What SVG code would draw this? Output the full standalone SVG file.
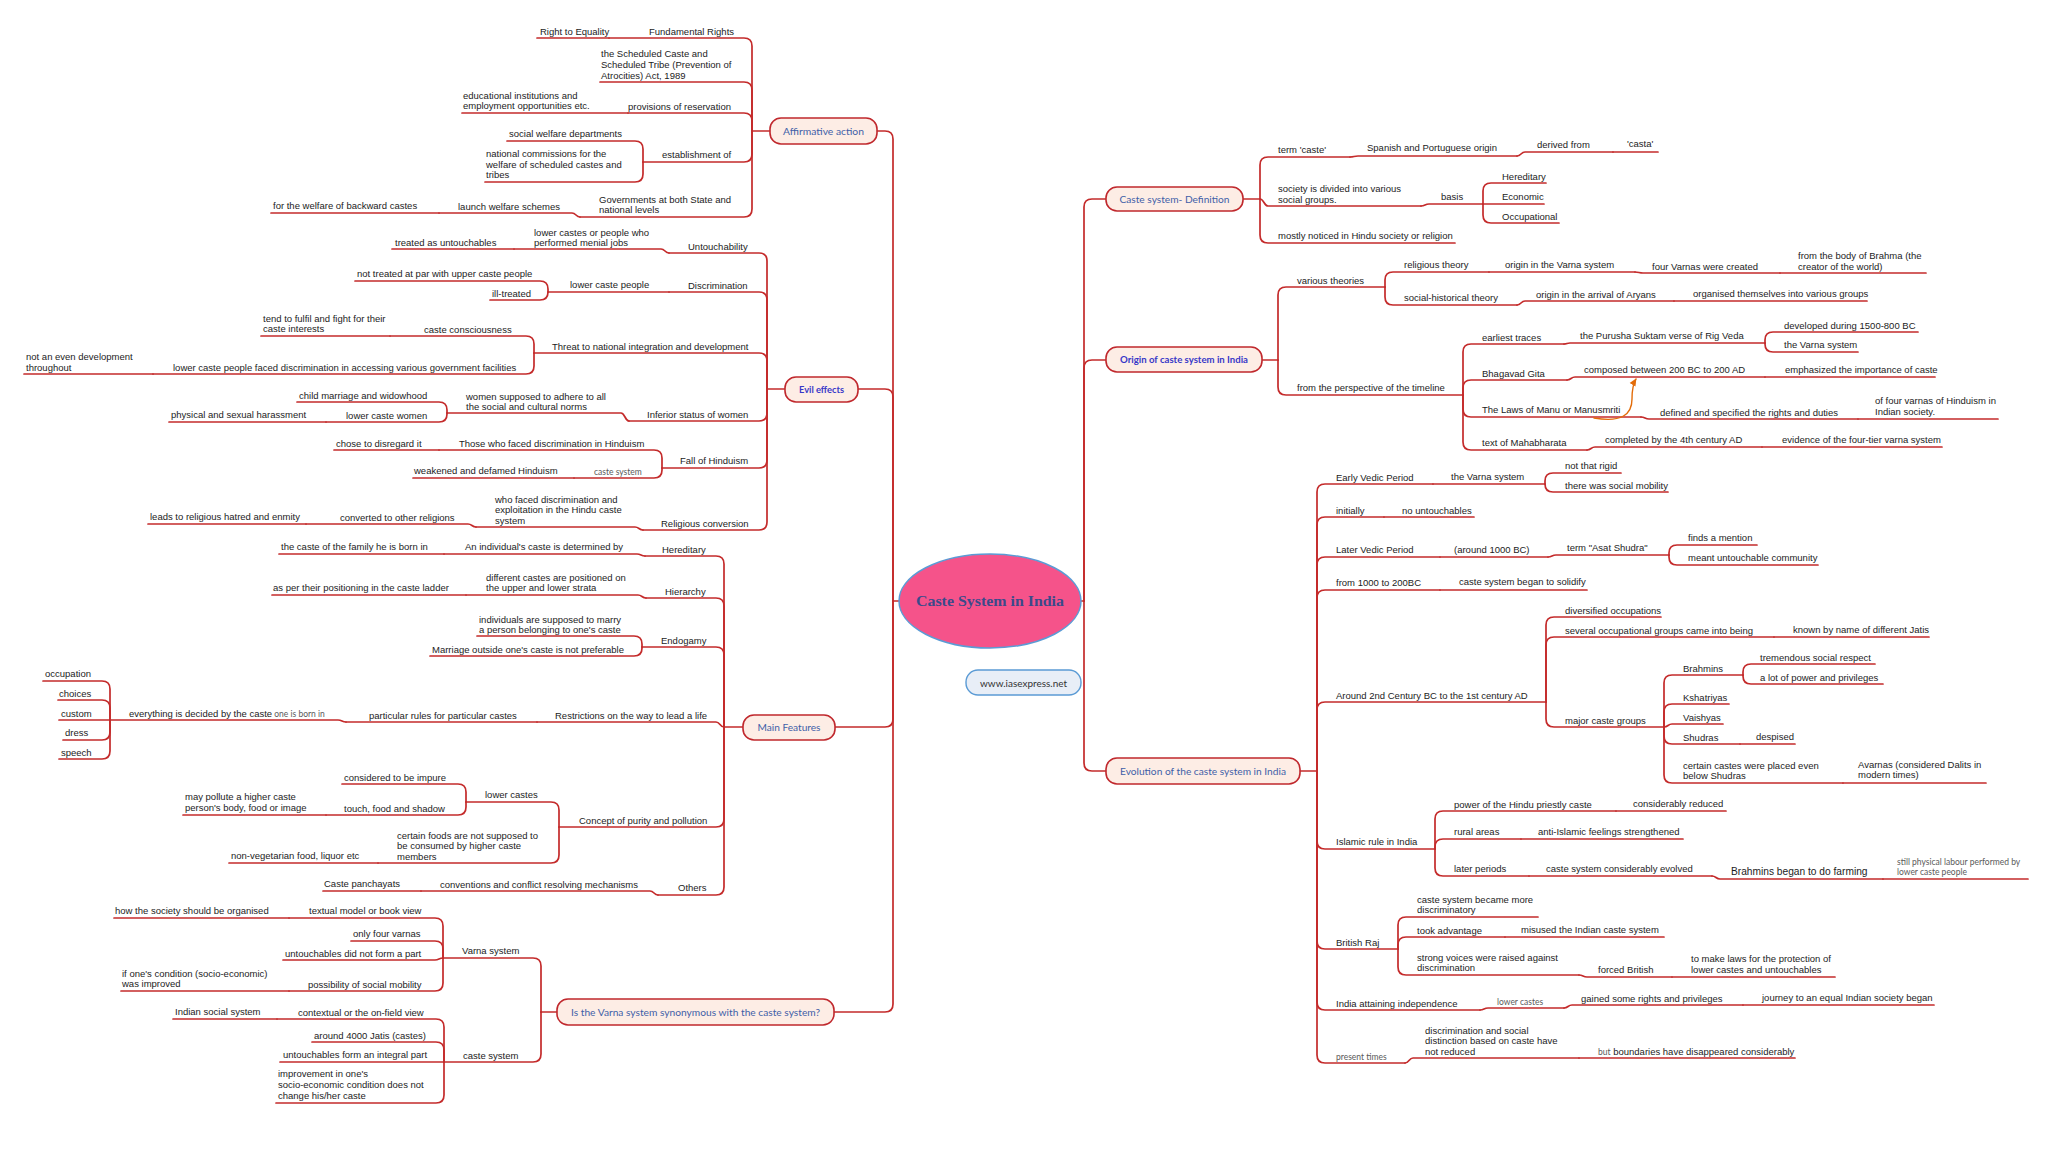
<svg xmlns="http://www.w3.org/2000/svg" width="2048" height="1165" viewBox="0 0 2048 1165">
<defs>
<style>
.t{font-family:"Liberation Sans",Arial,sans-serif;font-size:9.5px;fill:#1c1c1c}
.s{font-family:Lato,"Liberation Sans",sans-serif;font-size:8.5px;fill:#5a5a5a}
.b{font-family:"Liberation Sans",Arial,sans-serif;font-size:10.2px;fill:#1c1c1c}
.mn rect{fill:#fdede5;stroke:#c0282d;stroke-width:1.6}
.mt{font-family:Lato,"Liberation Sans",sans-serif;font-size:10px;fill:#3f5fa8;text-anchor:middle}
.mp{fill:#3838c8;font-weight:bold}
#connectors path{fill:none;stroke:#c42b2b;stroke-width:1.7;stroke-linecap:round;stroke-linejoin:round}
#connectors path.ar{stroke:#e36c09;stroke-width:1.4}
</style>
<marker id="arr" viewBox="0 0 10 10" refX="8" refY="5" markerWidth="6" markerHeight="6" orient="auto">
<path d="M0,1 L9,5 L0,9 z" fill="#e36c09"/>
</marker>
</defs>
<rect width="2048" height="1165" fill="#ffffff"/>
<g id="connectors">
<!-- trunks -->
<path d="M899,601 H893"/>
<path d="M877,131 H885 Q893,131 893,139 V601"/>
<path d="M858,389 H885 Q893,389 893,397 V601"/>
<path d="M835,727 H885 Q893,727 893,719 V601"/>
<path d="M834,1012 H885 Q893,1012 893,1004 V601"/>
<path d="M1081,601 H1084"/>
<path d="M1106,199 H1092 Q1084,199 1084,207 V601"/>
<path d="M1106,360 H1092 Q1084,360 1084,368 V601"/>
<path d="M1106,771 H1092 Q1084,771 1084,763 V601"/>
<!-- Affirmative -->
<path d="M770,131 H752"/>
<path d="M609,38 H744 Q752,38 752,46 V131"/>
<path d="M537,38 H609"/>
<path d="M600,82 H744 Q752,82 752,90 V131"/>
<path d="M628,113 H744 Q752,113 752,121 V131"/>
<path d="M462,113 H628"/>
<path d="M643,162 H744 Q752,162 752,154 V131"/>
<path d="M507,141 H635 Q643,141 643,149 V162"/>
<path d="M485,182 H635 Q643,182 643,174 V162"/>
<path d="M580,217 H744 Q752,217 752,209 V131"/>
<path d="M439,213 H572 C576,213 576,217 580,217"/>
<path d="M271,213 H439"/>
<!-- Evil effects -->
<path d="M785,389 H767"/>
<path d="M669,253 H759 Q767,253 767,261 V389"/>
<path d="M514,249 H661 C665,249 665,253 669,253"/>
<path d="M392,249 H514"/>
<path d="M669,292 H759 Q767,292 767,300 V389"/>
<path d="M548,292 H669"/>
<path d="M355,281 H540 Q548,281 548,289 V292"/>
<path d="M490,300 H540 Q548,300 548,292"/>
<path d="M534,353 H759 Q767,353 767,361 V389"/>
<path d="M390,336 H526 Q534,336 534,344 V353"/>
<path d="M261,336 H390"/>
<path d="M153,374 H526 Q534,374 534,366 V353"/>
<path d="M24,374 H153"/>
<path d="M629,421 H759 Q767,421 767,413 V389"/>
<path d="M447,413 H621 C625,413 625,421 629,421"/>
<path d="M297,402 H439 Q447,402 447,410 V413"/>
<path d="M326,422 H439 Q447,422 447,414 V413"/>
<path d="M169,422 H326"/>
<path d="M662,468 H759 Q767,468 767,460 V389"/>
<path d="M439,450 H654 Q662,450 662,458 V468"/>
<path d="M334,450 H439"/>
<path d="M574,478 H654 Q662,478 662,470 V468"/>
<path d="M413,478 H574"/>
<path d="M643,530 H759 Q767,530 767,522 V389"/>
<path d="M476,527 H635 C639,527 639,530 643,530"/>
<path d="M306,524 H468 C472,524 472,527 476,527"/>
<path d="M148,524 H306"/>
<!-- Main features -->
<path d="M743,727 H724"/>
<path d="M645,556 H716 Q724,556 724,564 V727"/>
<path d="M444,554 H637 C641,554 641,556 645,556"/>
<path d="M279,554 H444"/>
<path d="M646,598 H716 Q724,598 724,606 V727"/>
<path d="M466,595 H638 C642,595 642,598 646,598"/>
<path d="M272,595 H466"/>
<path d="M642,647 H716 Q724,647 724,655 V727"/>
<path d="M477,636 H634 Q642,636 642,644 V647"/>
<path d="M430,656 H634 Q642,656 642,648 V647"/>
<path d="M537,722 H716 C720,722 720,727 724,727"/>
<path d="M346,722 H537"/>
<path d="M110,720 H338 C342,720 342,722 346,722"/>
<path d="M43,681 H102 Q110,681 110,689 V720"/>
<path d="M58,700 H102 Q110,700 110,708 V720"/>
<path d="M59,720 H110"/>
<path d="M63,740 H102 Q110,740 110,732 V720"/>
<path d="M59,759 H102 Q110,759 110,751 V720"/>
<path d="M559,827 H716 Q724,827 724,819 V727"/>
<path d="M466,802 H551 Q559,802 559,810 V827"/>
<path d="M342,784 H458 Q466,784 466,792 V802"/>
<path d="M326,815 H458 Q466,815 466,807 V802"/>
<path d="M183,815 H326"/>
<path d="M378,863 H551 Q559,863 559,855 V827"/>
<path d="M229,863 H378"/>
<path d="M658,895 H716 Q724,895 724,887 V727"/>
<path d="M421,891 H650 C654,891 654,895 658,895"/>
<path d="M323,891 H421"/>
<!-- Varna question -->
<path d="M557,1012 H541"/>
<path d="M443,958 H533 Q541,958 541,966 V1012"/>
<path d="M289,918 H435 Q443,918 443,926 V958"/>
<path d="M114,918 H289"/>
<path d="M351,941 H435 Q443,941 443,949 V958"/>
<path d="M283,960 H435 C439,960 439,958 443,958"/>
<path d="M289,991 H435 Q443,991 443,983 V958"/>
<path d="M121,991 H289"/>
<path d="M444,1062 H533 Q541,1062 541,1054 V1012"/>
<path d="M277,1019 H436 Q444,1019 444,1027 V1062"/>
<path d="M173,1019 H277"/>
<path d="M312,1042 H436 Q444,1042 444,1050 V1062"/>
<path d="M280,1062 H444"/>
<path d="M276,1103 H436 Q444,1103 444,1095 V1062"/>
<!-- Definition -->
<path d="M1243,199 H1260"/>
<path d="M1350,157 H1268 Q1260,157 1260,165 V199"/>
<path d="M1350,157 C1354,157 1354,156 1358,156 H1517"/>
<path d="M1517,156 C1521,156 1521,152 1525,152 H1613"/>
<path d="M1613,152 H1658"/>
<path d="M1260,199 C1264,199 1264,206 1268,206 H1421"/>
<path d="M1421,206 C1425,206 1425,204 1429,204 H1483"/>
<path d="M1546,183 H1491 Q1483,183 1483,191 V204"/>
<path d="M1483,204 H1544"/>
<path d="M1559,223 H1491 Q1483,223 1483,215 V204"/>
<path d="M1455,243 H1268 Q1260,243 1260,235 V199"/>
<!-- Origin -->
<path d="M1262,360 H1278"/>
<path d="M1385,287 H1286 Q1278,287 1278,295 V360"/>
<path d="M1489,272 H1393 Q1385,272 1385,280 V287"/>
<path d="M1489,272 H1635"/>
<path d="M1635,272 C1639,272 1639,273 1643,273 H1780"/>
<path d="M1780,273 H1926"/>
<path d="M1517,305 H1393 Q1385,305 1385,297 V287"/>
<path d="M1517,305 C1521,305 1521,301 1525,301 H1674"/>
<path d="M1674,301 H1867"/>
<path d="M1463,395 H1286 Q1278,395 1278,387 V360"/>
<path d="M1564,344 H1471 Q1463,344 1463,352 V395"/>
<path d="M1564,344 C1567,344 1567,343 1570,343 H1765"/>
<path d="M1918,332 H1773 Q1765,332 1765,340 V343"/>
<path d="M1858,352 H1773 Q1765,352 1765,344 V343"/>
<path d="M1567,380 H1471 Q1463,380 1463,388 V395"/>
<path d="M1567,380 C1571,380 1571,377 1575,377 H1765"/>
<path d="M1765,377 H1935"/>
<path d="M1641,417 H1471 Q1463,417 1463,409 V395"/>
<path d="M1641,417 C1645,417 1645,419 1649,419 H1858"/>
<path d="M1858,419 H1998"/>
<path d="M1587,450 H1471 Q1463,450 1463,442 V395"/>
<path d="M1587,450 C1591,450 1591,447 1595,447 H1762"/>
<path d="M1762,447 H1942"/>
<path class="ar" d="M1594,418 C1622,423 1632,414 1632,399 C1632,389 1633,384 1636,379" marker-end="url(#arr)"/>
<!-- Evolution -->
<path d="M1300,771 H1317"/>
<path d="M1433,484 H1325 Q1317,484 1317,492 V771"/>
<path d="M1433,484 H1545"/>
<path d="M1621,473 H1553 Q1545,473 1545,481 V484"/>
<path d="M1668,492 H1553 Q1545,492 1545,484"/>
<path d="M1384,517 H1325 Q1317,517 1317,525 V771"/>
<path d="M1384,517 H1474"/>
<path d="M1440,557 H1325 Q1317,557 1317,565 V771"/>
<path d="M1440,557 H1548"/>
<path d="M1548,557 C1552,557 1552,555 1556,555 H1669"/>
<path d="M1757,545 H1677 Q1669,545 1669,553 V555"/>
<path d="M1818,565 H1677 Q1669,565 1669,557 V555"/>
<path d="M1440,590 H1325 Q1317,590 1317,598 V771"/>
<path d="M1440,590 H1587"/>
<path d="M1546,702 H1325 Q1317,702 1317,710 V771"/>
<path d="M1661,617 H1554 Q1546,617 1546,625 V702"/>
<path d="M1774,637 H1554 Q1546,637 1546,645 V702"/>
<path d="M1774,637 H1929"/>
<path d="M1664,727 H1554 Q1546,727 1546,719 V702"/>
<path d="M1743,675 H1672 Q1664,675 1664,683 V727"/>
<path d="M1875,664 H1751 Q1743,664 1743,672 V675"/>
<path d="M1883,684 H1751 Q1743,684 1743,676 V675"/>
<path d="M1729,704 H1672 Q1664,704 1664,712 V727"/>
<path d="M1664,727 C1668,727 1668,724 1672,724 H1723"/>
<path d="M1740,744 H1672 Q1664,744 1664,736 V727"/>
<path d="M1740,744 H1795"/>
<path d="M1843,783 H1672 Q1664,783 1664,775 V727"/>
<path d="M1843,783 H1986"/>
<path d="M1435,849 H1325 Q1317,849 1317,841 V771"/>
<path d="M1616,811 H1443 Q1435,811 1435,819 V849"/>
<path d="M1616,811 H1726"/>
<path d="M1521,839 H1443 Q1435,839 1435,847 V849"/>
<path d="M1521,839 H1683"/>
<path d="M1529,876 H1443 Q1435,876 1435,868 V849"/>
<path d="M1529,876 H1712"/>
<path d="M1712,876 C1716,876 1716,879 1720,879 H1883"/>
<path d="M1883,879 H2028"/>
<path d="M1398,949 H1325 Q1317,949 1317,941 V771"/>
<path d="M1538,917 H1406 Q1398,917 1398,925 V949"/>
<path d="M1505,937 H1406 Q1398,937 1398,945 V949"/>
<path d="M1505,937 H1664"/>
<path d="M1579,975 H1406 Q1398,975 1398,967 V949"/>
<path d="M1579,975 C1583,975 1583,977 1587,977 H1672"/>
<path d="M1672,977 H1835"/>
<path d="M1480,1010 H1325 Q1317,1010 1317,1002 V771"/>
<path d="M1480,1010 C1484,1010 1484,1008 1488,1008 H1564"/>
<path d="M1564,1008 C1568,1008 1568,1005 1572,1005 H1743"/>
<path d="M1743,1005 H1934"/>
<path d="M1405,1063 H1325 Q1317,1063 1317,1055 V771"/>
<path d="M1405,1063 C1409,1063 1409,1058 1413,1058 H1579"/>
<path d="M1579,1058 H1795"/>
</g>
<g id="nodes">
<g id="center">
<ellipse cx="990" cy="601" rx="91" ry="47" fill="#f5538a" stroke="#5b9bd5" stroke-width="1.5"/>
<text x="990" y="606" text-anchor="middle" font-family="'Liberation Serif','DejaVu Serif',serif" font-weight="bold" font-size="15" fill="#3b4a8a" textLength="148" lengthAdjust="spacingAndGlyphs">Caste System in India</text>
</g>
<g id="website">
<rect x="966" y="670" width="115" height="25" rx="12" fill="#e8eef7" stroke="#5b9bd5" stroke-width="1.4"/>
<text x="1023.5" y="686.5" text-anchor="middle" font-family="Lato,'Liberation Sans',sans-serif" font-size="10" fill="#333" textLength="87" lengthAdjust="spacingAndGlyphs">www.iasexpress.net</text>
</g>
<g id="n-affirmative" class="mn"><rect x="770" y="118" width="107" height="26" rx="11"/><text class="mt" x="823.5" y="134.5" textLength="81" lengthAdjust="spacingAndGlyphs">Affirmative action</text></g>
<g id="n-evil" class="mn"><rect x="785" y="377" width="73" height="25" rx="11"/><text class="mt mp" x="821.5" y="392.5" textLength="45" lengthAdjust="spacingAndGlyphs">Evil effects</text></g>
<g id="n-features" class="mn"><rect x="743" y="715" width="92" height="25" rx="11"/><text class="mt" x="789" y="730.5" textLength="63" lengthAdjust="spacingAndGlyphs">Main Features</text></g>
<g id="n-varnaq" class="mn"><rect x="557" y="999" width="277" height="26" rx="11"/><text class="mt" x="695.5" y="1015.5" textLength="249" lengthAdjust="spacingAndGlyphs">Is the Varna system synonymous with the caste system?</text></g>
<g id="n-definition" class="mn"><rect x="1106" y="187" width="137" height="24" rx="11"/><text class="mt" x="1174.5" y="202.5" textLength="110" lengthAdjust="spacingAndGlyphs">Caste system- Definition</text></g>
<g id="n-origin" class="mn"><rect x="1106" y="347" width="156" height="25" rx="11"/><text class="mt mp" x="1184" y="363" textLength="128" lengthAdjust="spacingAndGlyphs">Origin of caste system in India</text></g>
<g id="n-evolution" class="mn"><rect x="1106" y="758" width="194" height="26" rx="11"/><text class="mt" x="1203" y="774.5" textLength="166" lengthAdjust="spacingAndGlyphs">Evolution of the caste system in India</text></g>

<!-- Affirmative action subtopics -->
<g id="a1"><text class="t" x="649" y="34.5">Fundamental Rights</text></g>
<g id="a1a"><text class="t" x="540" y="34.5">Right to Equality</text></g>
<g id="a2"><text class="t"><tspan x="601" y="56.5">the Scheduled Caste and</tspan><tspan x="601" y="67.5">Scheduled Tribe (Prevention of</tspan><tspan x="601" y="78.5">Atrocities) Act, 1989</tspan></text></g>
<g id="a3"><text class="t" x="628" y="109.5">provisions of reservation</text></g>
<g id="a3a"><text class="t"><tspan x="463" y="98.5">educational institutions and</tspan><tspan x="463" y="109">employment opportunities etc.</tspan></text></g>
<g id="a4"><text class="t" x="662" y="157.5">establishment of</text></g>
<g id="a4a"><text class="t" x="509" y="136.5">social welfare departments</text></g>
<g id="a4b"><text class="t"><tspan x="486" y="156.5">national commissions for the</tspan><tspan x="486" y="167.5">welfare of scheduled castes and</tspan><tspan x="486" y="178">tribes</tspan></text></g>
<g id="a5"><text class="t"><tspan x="599" y="202.5">Governments at both State and</tspan><tspan x="599" y="213">national levels</tspan></text></g>
<g id="a5a"><text class="t" x="458" y="209.5">launch welfare schemes</text></g>
<g id="a5a1"><text class="t" x="273" y="208.5">for the welfare of backward castes</text></g>

<!-- Evil effects subtopics -->
<g id="e1"><text class="t" x="688" y="249.5">Untouchability</text></g>
<g id="e1a"><text class="t"><tspan x="534" y="235.5">lower castes or people who</tspan><tspan x="534" y="246">performed menial jobs</tspan></text></g>
<g id="e1a1"><text class="t" x="395" y="245.5">treated as untouchables</text></g>
<g id="e2"><text class="t" x="688" y="288.5">Discrimination</text></g>
<g id="e2a"><text class="t" x="570" y="287.5">lower caste people</text></g>
<g id="e2a1"><text class="t" x="357" y="276.5">not treated at par with upper caste people</text></g>
<g id="e2a2"><text class="t" x="492" y="296.5">ill-treated</text></g>
<g id="e3"><text class="t" x="552" y="349.5">Threat to national integration and development</text></g>
<g id="e3a"><text class="t" x="424" y="332.5">caste consciousness</text></g>
<g id="e3a1"><text class="t"><tspan x="263" y="321.5">tend to fulfil and fight for their</tspan><tspan x="263" y="332">caste interests</tspan></text></g>
<g id="e3b"><text class="t" x="173" y="370.5">lower caste people faced discrimination in accessing various government facilities</text></g>
<g id="e3b1"><text class="t"><tspan x="26" y="359.5">not an even development</tspan><tspan x="26" y="370.5">throughout</tspan></text></g>
<g id="e4"><text class="t" x="647" y="417.5">Inferior status of women</text></g>
<g id="e4a"><text class="t"><tspan x="466" y="399.5">women supposed to adhere to all</tspan><tspan x="466" y="410">the social and cultural norms</tspan></text></g>
<g id="e4a1"><text class="t" x="299" y="398.5">child marriage and widowhood</text></g>
<g id="e4a2"><text class="t" x="346" y="418.5">lower caste women</text></g>
<g id="e4a2a"><text class="t" x="171" y="417.5">physical and sexual harassment</text></g>
<g id="e5"><text class="t" x="680" y="463.5">Fall of Hinduism</text></g>
<g id="e5a"><text class="t" x="459" y="446.5">Those who faced discrimination in Hinduism</text></g>
<g id="e5a1"><text class="t" x="336" y="446.5">chose to disregard it</text></g>
<g id="e5b"><text class="s" x="594" y="475">caste system</text></g>
<g id="e5b1"><text class="t" x="414" y="473.5">weakened and defamed Hinduism</text></g>
<g id="e6"><text class="t" x="661" y="526.5">Religious conversion</text></g>
<g id="e6a"><text class="t"><tspan x="495" y="502.5">who faced discrimination and</tspan><tspan x="495" y="513">exploitation in the Hindu caste</tspan><tspan x="495" y="523.5">system</tspan></text></g>
<g id="e6a1"><text class="t" x="340" y="520.5">converted to other religions</text></g>
<g id="e6a1a"><text class="t" x="150" y="519.5">leads to religious hatred and enmity</text></g>

<!-- Main Features subtopics -->
<g id="m1"><text class="t" x="662" y="552.5">Hereditary</text></g>
<g id="m1a"><text class="t" x="465" y="549.5">An individual's caste is determined by</text></g>
<g id="m1a1"><text class="t" x="281" y="549.5">the caste of the family he is born in</text></g>
<g id="m2"><text class="t" x="665" y="594.5">Hierarchy</text></g>
<g id="m2a"><text class="t"><tspan x="486" y="580.5">different castes are positioned on</tspan><tspan x="486" y="591">the upper and lower strata</tspan></text></g>
<g id="m2a1"><text class="t" x="273" y="590.5">as per their positioning in the caste ladder</text></g>
<g id="m3"><text class="t" x="661" y="643.5">Endogamy</text></g>
<g id="m3a"><text class="t"><tspan x="479" y="622.5">individuals are supposed to marry</tspan><tspan x="479" y="633">a person belonging to one's caste</tspan></text></g>
<g id="m3b"><text class="t" x="432" y="652.5">Marriage outside one's caste is not preferable</text></g>
<g id="m4"><text class="t" x="555" y="718.5">Restrictions on the way to lead a life</text></g>
<g id="m4a"><text class="t" x="369" y="718.5">particular rules for particular castes</text></g>
<g id="m4a1"><text class="t" x="129" y="716.5">everything is decided by the caste<tspan class="s"> one is born in</tspan></text></g>
<g id="m4a1a"><text class="t" x="45" y="676.5">occupation</text></g>
<g id="m4a1b"><text class="t" x="59" y="696.5">choices</text></g>
<g id="m4a1c"><text class="t" x="61" y="716.5">custom</text></g>
<g id="m4a1d"><text class="t" x="65" y="735.5">dress</text></g>
<g id="m4a1e"><text class="t" x="61" y="755.5">speech</text></g>
<g id="m5"><text class="t" x="579" y="823.5">Concept of purity and pollution</text></g>
<g id="m5a"><text class="t" x="485" y="797.5">lower castes</text></g>
<g id="m5a1"><text class="t" x="344" y="780.5">considered to be impure</text></g>
<g id="m5a2"><text class="t" x="344" y="811.5">touch, food and shadow</text></g>
<g id="m5a2a"><text class="t"><tspan x="185" y="799.5">may pollute a higher caste</tspan><tspan x="185" y="810.5">person's body, food or image</tspan></text></g>
<g id="m5b"><text class="t"><tspan x="397" y="838.5">certain foods are not supposed to</tspan><tspan x="397" y="849">be consumed by higher caste</tspan><tspan x="397" y="859.5">members</tspan></text></g>
<g id="m5b1"><text class="t" x="231" y="858.5">non-vegetarian food, liquor etc</text></g>
<g id="m6"><text class="t" x="678" y="890.5">Others</text></g>
<g id="m6a"><text class="t" x="440" y="887.5">conventions and conflict resolving mechanisms</text></g>
<g id="m6a1"><text class="t" x="324" y="886.5">Caste panchayats</text></g>

<!-- Varna question subtopics -->
<g id="v1"><text class="t" x="462" y="953.5">Varna system</text></g>
<g id="v1a"><text class="t" x="309" y="913.5">textual model or book view</text></g>
<g id="v1a1"><text class="t" x="115" y="913.5">how the society should be organised</text></g>
<g id="v1b"><text class="t" x="353" y="936.5">only four varnas</text></g>
<g id="v1c"><text class="t" x="285" y="956.5">untouchables did not form a part</text></g>
<g id="v1d"><text class="t" x="308" y="987.5">possibility of social mobility</text></g>
<g id="v1d1"><text class="t"><tspan x="122" y="976.5">if one's condition (socio-economic)</tspan><tspan x="122" y="987">was improved</tspan></text></g>
<g id="v2"><text class="t" x="463" y="1058.5">caste system</text></g>
<g id="v2a"><text class="t" x="298" y="1015.5">contextual or the on-field view</text></g>
<g id="v2a1"><text class="t" x="175" y="1014.5">Indian social system</text></g>
<g id="v2b"><text class="t" x="314" y="1038.5">around 4000 Jatis (castes)</text></g>
<g id="v2c"><text class="t" x="283" y="1057.5">untouchables form an integral part</text></g>
<g id="v2d"><text class="t"><tspan x="278" y="1076.5">improvement in one's</tspan><tspan x="278" y="1087.5">socio-economic condition does not</tspan><tspan x="278" y="1098.5">change his/her caste</tspan></text></g>

<!-- Definition subtopics -->
<g id="d1"><text class="t" x="1278" y="152.5">term 'caste'</text></g>
<g id="d1a"><text class="t" x="1367" y="150.5">Spanish and Portuguese origin</text></g>
<g id="d1a1"><text class="t" x="1537" y="147.5">derived from</text></g>
<g id="d1a1a"><text class="t" x="1627" y="146.5">'casta'</text></g>
<g id="d2"><text class="t"><tspan x="1278" y="191.5">society is divided into various</tspan><tspan x="1278" y="202.5">social groups.</tspan></text></g>
<g id="d2a"><text class="t" x="1441" y="199.5">basis</text></g>
<g id="d2a1"><text class="t" x="1502" y="179.5">Hereditary</text></g>
<g id="d2a2"><text class="t" x="1502" y="199.5">Economic</text></g>
<g id="d2a3"><text class="t" x="1502" y="219.5">Occupational</text></g>
<g id="d3"><text class="t" x="1278" y="238.5">mostly noticed in Hindu society or religion</text></g>

<!-- Origin subtopics -->
<g id="o1"><text class="t" x="1297" y="283.5">various theories</text></g>
<g id="o1a"><text class="t" x="1404" y="267.5">religious theory</text></g>
<g id="o1a1"><text class="t" x="1505" y="267.5">origin in the Varna system</text></g>
<g id="o1a1a"><text class="t" x="1652" y="269.5">four Varnas were created</text></g>
<g id="o1a1a1"><text class="t"><tspan x="1798" y="258.5">from the body of Brahma (the</tspan><tspan x="1798" y="269.5">creator of the world)</tspan></text></g>
<g id="o1b"><text class="t" x="1404" y="300.5">social-historical theory</text></g>
<g id="o1b1"><text class="t" x="1536" y="297.5">origin in the arrival of Aryans</text></g>
<g id="o1b1a"><text class="t" x="1693" y="296.5">organised themselves into various groups</text></g>
<g id="o2"><text class="t" x="1297" y="390.5">from the perspective of the timeline</text></g>
<g id="o2a"><text class="t" x="1482" y="340.5">earliest traces</text></g>
<g id="o2a1"><text class="t" x="1580" y="338.5">the Purusha Suktam verse of Rig Veda</text></g>
<g id="o2a1a"><text class="t" x="1784" y="328.5">developed during 1500-800 BC</text></g>
<g id="o2a1b"><text class="t" x="1784" y="347.5">the Varna system</text></g>
<g id="o2b"><text class="t" x="1482" y="376.5">Bhagavad Gita</text></g>
<g id="o2b1"><text class="t" x="1584" y="372.5">composed between 200 BC to 200 AD</text></g>
<g id="o2b1a"><text class="t" x="1785" y="372.5">emphasized the importance of caste</text></g>
<g id="o2c"><text class="t" x="1482" y="412.5">The Laws of Manu or Manusmriti</text></g>
<g id="o2c1"><text class="t" x="1660" y="415.5">defined and specified the rights and duties</text></g>
<g id="o2c1a"><text class="t"><tspan x="1875" y="403.5">of four varnas of Hinduism in</tspan><tspan x="1875" y="414.5">Indian society.</tspan></text></g>
<g id="o2d"><text class="t" x="1482" y="445.5">text of Mahabharata</text></g>
<g id="o2d1"><text class="t" x="1605" y="442.5">completed by the 4th century AD</text></g>
<g id="o2d1a"><text class="t" x="1782" y="442.5">evidence of the four-tier varna system</text></g>

<!-- Evolution subtopics -->
<g id="ev1"><text class="t" x="1336" y="480.5">Early Vedic Period</text></g>
<g id="ev1a"><text class="t" x="1451" y="479.5">the Varna system</text></g>
<g id="ev1a1"><text class="t" x="1565" y="468.5">not that rigid</text></g>
<g id="ev1a2"><text class="t" x="1565" y="488.5">there was social mobility</text></g>
<g id="ev2"><text class="t" x="1336" y="513.5">initially</text></g>
<g id="ev2a"><text class="t" x="1402" y="513.5">no untouchables</text></g>
<g id="ev3"><text class="t" x="1336" y="552.5">Later Vedic Period</text></g>
<g id="ev3a"><text class="t" x="1454" y="552.5">(around 1000 BC)</text></g>
<g id="ev3a1"><text class="t" x="1567" y="550.5">term &quot;Asat Shudra&quot;</text></g>
<g id="ev3a1a"><text class="t" x="1688" y="540.5">finds a mention</text></g>
<g id="ev3a1b"><text class="t" x="1688" y="560.5">meant untouchable community</text></g>
<g id="ev4"><text class="t" x="1336" y="585.5">from 1000 to 200BC</text></g>
<g id="ev4a"><text class="t" x="1459" y="584.5">caste system began to solidify</text></g>
<g id="ev5"><text class="t" x="1336" y="698.5">Around 2nd Century BC to the 1st century AD</text></g>
<g id="ev5a"><text class="t" x="1565" y="613.5">diversified occupations</text></g>
<g id="ev5b"><text class="t" x="1565" y="633.5">several occupational groups came into being</text></g>
<g id="ev5b1"><text class="t" x="1793" y="632.5">known by name of different Jatis</text></g>
<g id="ev5c"><text class="t" x="1565" y="723.5">major caste groups</text></g>
<g id="ev5c1"><text class="t" x="1683" y="671.5">Brahmins</text></g>
<g id="ev5c1a"><text class="t" x="1760" y="660.5">tremendous social respect</text></g>
<g id="ev5c1b"><text class="t" x="1760" y="680.5">a lot of power and privileges</text></g>
<g id="ev5c2"><text class="t" x="1683" y="700.5">Kshatriyas</text></g>
<g id="ev5c3"><text class="t" x="1683" y="720.5">Vaishyas</text></g>
<g id="ev5c4"><text class="t" x="1683" y="740.5">Shudras</text></g>
<g id="ev5c4a"><text class="t" x="1756" y="739.5">despised</text></g>
<g id="ev5c5"><text class="t"><tspan x="1683" y="768.5">certain castes were placed even</tspan><tspan x="1683" y="779">below Shudras</tspan></text></g>
<g id="ev5c5a"><text class="t"><tspan x="1858" y="767.5">Avarnas (considered Dalits in</tspan><tspan x="1858" y="778">modern times)</tspan></text></g>
<g id="ev6"><text class="t" x="1336" y="844.5">Islamic rule in India</text></g>
<g id="ev6a"><text class="t" x="1454" y="807.5">power of the Hindu priestly caste</text></g>
<g id="ev6a1"><text class="t" x="1633" y="806.5">considerably reduced</text></g>
<g id="ev6b"><text class="t" x="1454" y="834.5">rural areas</text></g>
<g id="ev6b1"><text class="t" x="1538" y="834.5">anti-Islamic feelings strengthened</text></g>
<g id="ev6c"><text class="t" x="1454" y="871.5">later periods</text></g>
<g id="ev6c1"><text class="t" x="1546" y="871.5">caste system considerably evolved</text></g>
<g id="ev6c1a"><text class="b" x="1731" y="875">Brahmins began to do farming</text></g>
<g id="ev6c1a1"><text class="s"><tspan x="1897" y="864.5">still physical labour performed by</tspan><tspan x="1897" y="875">lower caste people</tspan></text></g>
<g id="ev7"><text class="t" x="1336" y="945.5">British Raj</text></g>
<g id="ev7a"><text class="t"><tspan x="1417" y="902.5">caste system became more</tspan><tspan x="1417" y="913">discriminatory</tspan></text></g>
<g id="ev7b"><text class="t" x="1417" y="933.5">took advantage</text></g>
<g id="ev7b1"><text class="t" x="1521" y="932.5">misused the Indian caste system</text></g>
<g id="ev7c"><text class="t"><tspan x="1417" y="960.5">strong voices were raised against</tspan><tspan x="1417" y="971">discrimination</tspan></text></g>
<g id="ev7c1"><text class="t" x="1598" y="972.5">forced British</text></g>
<g id="ev7c1a"><text class="t"><tspan x="1691" y="961.5">to make laws for the protection of</tspan><tspan x="1691" y="972.5">lower castes and untouchables</tspan></text></g>
<g id="ev8"><text class="t" x="1336" y="1006.5">India attaining independence</text></g>
<g id="ev8a"><text class="s" x="1497" y="1004.5">lower castes</text></g>
<g id="ev8a1"><text class="t" x="1581" y="1001.5">gained some rights and privileges</text></g>
<g id="ev8a1a"><text class="t" x="1762" y="1000.5">journey to an equal Indian society began</text></g>
<g id="ev9"><text class="s" x="1336" y="1059.5">present times</text></g>
<g id="ev9a"><text class="t"><tspan x="1425" y="1033.5">discrimination and social</tspan><tspan x="1425" y="1044">distinction based on caste have</tspan><tspan x="1425" y="1054.5">not reduced</tspan></text></g>
<g id="ev9a1"><text class="t" x="1598" y="1054.5"><tspan class="s">but</tspan> boundaries have disappeared considerably</text></g>
</g>
</svg>
